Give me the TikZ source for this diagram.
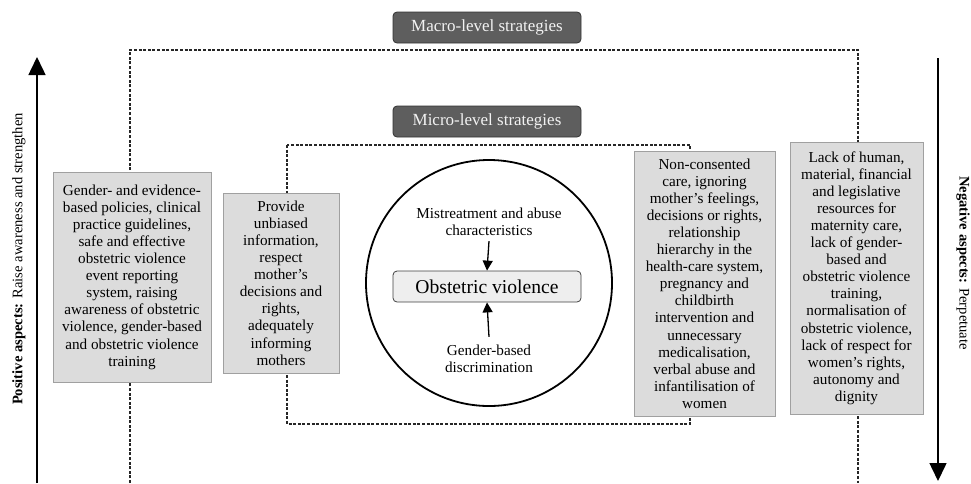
\documentclass[tikz,border=0pt]{standalone}
\usepackage{fontspec}
\setmainfont{Liberation Serif}
\usetikzlibrary{arrows.meta}
\definecolor{boxgray}{HTML}{DCDCDC}
\definecolor{boxedge}{HTML}{A0A0A0}
\definecolor{darkbox}{HTML}{5E5E5E}
\definecolor{ovfill}{HTML}{EEEEEE}
\tikzset{
  body/.style={font=\fontsize{15.2}{17.1}\selectfont, align=center},
  infobox/.style={body, rectangle, draw=boxedge, fill=boxgray, line width=0.8pt, inner sep=0pt},
  levelbox/.style={rectangle, rounded corners=4pt, draw=black!80, fill=darkbox, text=white!95!black,
     font=\fontsize{17}{20}\selectfont, minimum width=188pt, minimum height=31pt, line width=0.8pt},
  dotline/.style={line width=1.6pt, black!85, dash pattern=on 3pt off 1.6pt},
  bigarrow/.style={line width=1.5pt, -{Triangle[width=17pt,length=18pt]}},
  smallarrow/.style={line width=1.3pt, -{Triangle[width=10pt,length=10pt]}},
  sidelabel/.style={font=\fontsize{14.6}{17}\selectfont}
}
\begin{document}
\begin{tikzpicture}[x=1pt,y=-1pt]
\useasboundingbox (0,0) rectangle (971,483);
% dotted frames
\draw[dotline] (130,483) -- (130,50) -- (858,50) -- (858,483);
\draw[dotline] (287,145) rectangle (690,424);
% level labels
\node[levelbox] (macro) at (487,27.5) {Macro-level strategies};
\node[levelbox] (micro) at (487,121.5) {Micro-level strategies};
% circle
\node[circle, draw, line width=1.8pt, minimum size=246pt, inner sep=0pt] (circ) at (489,283) {};
\node[rectangle, rounded corners=4pt, draw=black!75, fill=ovfill, line width=0.8pt,
      minimum width=188pt, minimum height=31pt, font=\fontsize{19.6}{24}\selectfont] (ov) at (487,286.5) {Obstetric violence};
\node[body, inner sep=2pt] (mis) at (489,222) {Mistreatment and abuse\\characteristics};
\node[body, inner sep=2pt] (gen) at (489,359) {Gender-based\\discrimination};
\draw[smallarrow] (mis.south) ++(0,3) -- (ov.north);
\draw[smallarrow] (gen.north) ++(0,-6) -- (ov.south);
% info boxes
\node[infobox, minimum width=158pt, minimum height=210pt] (b1) at (132,277)
 {Gender- and evidence-\\based policies, clinical\\practice guidelines,\\safe and effective\\obstetric violence\\event reporting\\system, raising\\awareness of obstetric\\violence, gender-based\\and obstetric violence\\training};
\node[infobox, minimum width=116pt, minimum height=180pt] (b2) at (281,283)
 {Provide\\unbiased\\information,\\respect\\mother’s\\decisions and\\rights,\\adequately\\informing\\mothers};
\node[infobox, minimum width=141pt, minimum height=265pt] (b3) at (704.5,283.5)
 {Non-consented\\care, ignoring\\mother’s feelings,\\decisions or rights,\\relationship\\hierarchy in the\\health-care system,\\pregnancy and\\childbirth\\intervention and\\unnecessary\\medicalisation,\\verbal abuse and\\infantilisation of\\women};
\node[infobox, minimum width=133pt, minimum height=272pt] (b4) at (856.5,278)
 {Lack of human,\\material, financial\\and legislative\\resources for\\maternity care,\\lack of gender-\\based and\\obstetric violence\\training,\\normalisation of\\obstetric violence,\\lack of respect for\\women’s rights,\\autonomy and\\dignity};
% side arrows
\coordinate (lbot) at (37,483);
\coordinate (ltop) at (37,57);
\coordinate (rtop) at (938,58);
\coordinate (rbot) at (938,481);
\draw[bigarrow] (lbot) -- (ltop);
\draw[bigarrow] (rtop) -- (rbot);
\node[sidelabel, rotate=90] (plab) at (19,259) {\textbf{Positive aspects:} Raise awareness and strengthen};
\node[sidelabel, rotate=-90] (nlab) at (963,263) {\textbf{Negative aspects:} Perpetuate};
\end{tikzpicture}
\end{document}
